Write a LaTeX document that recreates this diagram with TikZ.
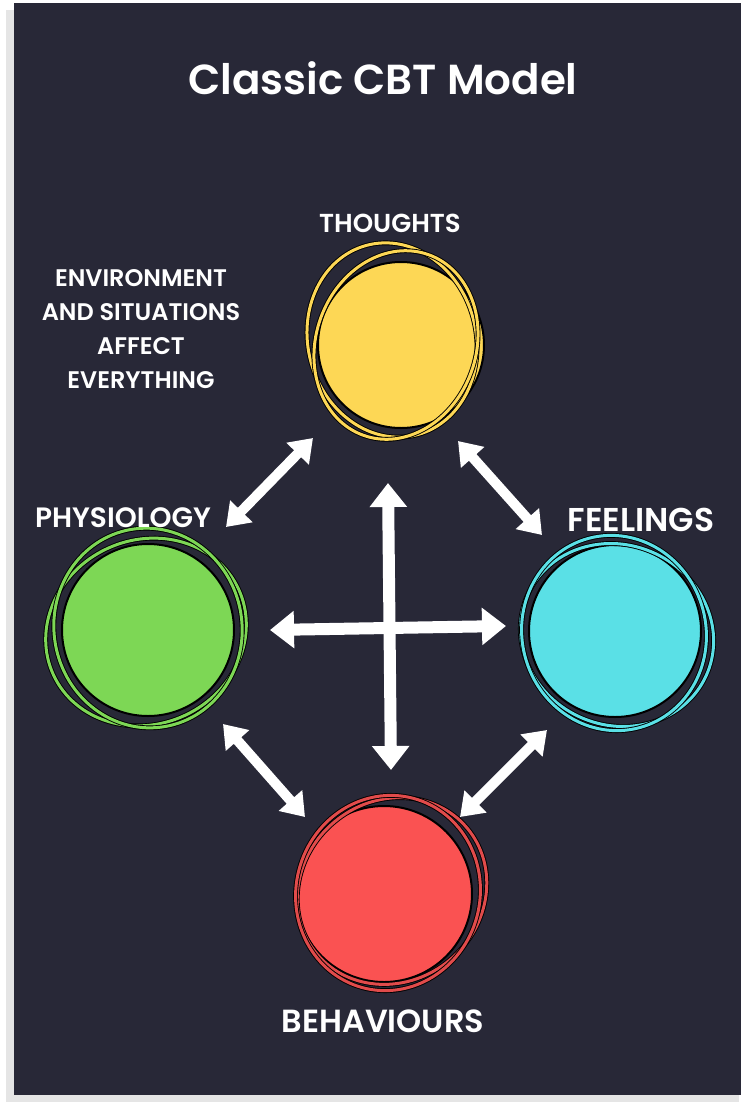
\documentclass[tikz,border=0pt]{standalone}
\usepackage{fontspec}
\newfontfamily\handfont{Poppins}[BoldFont={Poppins SemiBold}]
\usetikzlibrary{positioning,arrows.meta}

\definecolor{panel}{RGB}{40,40,55}
\definecolor{thoughtcol}{RGB}{253,215,85}
\definecolor{physcol}{RGB}{125,215,85}
\definecolor{feelcol}{RGB}{90,224,230}
\definecolor{behavcol}{RGB}{250,82,82}
\definecolor{behavring}{RGB}{225,75,75}

\tikzset{
  blob/.style={circle, fill=#1, draw=black, line width=2pt, minimum size=172pt, inner sep=0pt},
  ring/.style={draw=black, double=#1, double distance=3pt, line width=0.9pt},
  tag/.style={text=white, font=\handfont\bfseries\fontsize{28}{28}\selectfont, inner sep=0pt},
  link/.style={draw=white, line width=12pt, {Triangle[width=36pt,length=24pt]}-{Triangle[width=36pt,length=24pt]}},
  sidelink/.style={draw=white, line width=10pt, {Triangle[width=30pt,length=22pt]}-{Triangle[width=30pt,length=22pt]}},
}

\begin{document}
\begin{tikzpicture}[x=1pt, y=-1pt]
  \useasboundingbox (0,0) rectangle (746,1106);
  \fill[white] (0,0) rectangle (746,1106);
  \fill[black!10] (6,10) rectangle (739,1102);
  \fill[panel] (14,3) rectangle (741,1095);

  \node[tag, font=\handfont\bfseries\fontsize{42}{42}\selectfont] (title) at (383,78) {Classic CBT Model};
  \node[tag, font=\handfont\bfseries\fontsize{24}{34}\selectfont, align=center] (env) at (141,329)
    {ENVIRONMENT\\AND SITUATIONS\\AFFECT\\EVERYTHING};

  % the four circles
  \node[blob=thoughtcol, minimum size=166pt] (thoughts) at (401,345) {};
  \node[blob=physcol] (physiology) at (148,630) {};
  \node[blob=feelcol] (feelings) at (615,631) {};
  \node[blob=behavcol, minimum size=176pt] (behaviours) at (384,894) {};

  \draw[ring=thoughtcol] ([shift={(-9,-5)}]thoughts.center) ellipse [x radius=84, y radius=98, rotate=15];
  \draw[ring=thoughtcol] ([shift={(-5,0)}]thoughts.center) ellipse [x radius=80, y radius=96, rotate=-20];
  \draw[ring=physcol] ([shift={(-2,2)}]physiology.center) ellipse [x radius=102, y radius=92, rotate=25];
  \draw[ring=physcol] ([shift={(0,-2)}]physiology.center) ellipse [x radius=94, y radius=100, rotate=10];
  \draw[ring=feelcol] ([shift={(2,4)}]feelings.center) ellipse [x radius=98, y radius=90, rotate=-25];
  \draw[ring=feelcol] ([shift={(-1,2)}]feelings.center) ellipse [x radius=92, y radius=98, rotate=15];
  \draw[ring=behavring] ([shift={(8,-3)}]behaviours.center) ellipse [x radius=98, y radius=90, rotate=40];
  \draw[ring=behavring] ([shift={(4,-1)}]behaviours.center) ellipse [x radius=92, y radius=98, rotate=-15];

  \node[tag, font=\handfont\bfseries\fontsize{26}{26}\selectfont, above=28pt of thoughts, xshift=-11pt] (thoughtslbl) {THOUGHTS};
  \node[tag, above=15pt of physiology, xshift=-25pt] (physiologylbl) {PHYSIOLOGY};
  \node[tag, font=\handfont\bfseries\fontsize{33}{33}\selectfont, above=12pt of feelings, xshift=26pt] (feelingslbl) {FEELINGS};
  \node[tag, font=\handfont\bfseries\fontsize{32}{32}\selectfont, below=27pt of behaviours, xshift=-1pt] (behaviourslbl) {BEHAVIOURS};

  % arrows
  \coordinate (tp1) at (313,438); \coordinate (tp2) at (226,527);
  \coordinate (tf1) at (458,441); \coordinate (tf2) at (542,535);
  \coordinate (pb1) at (223,724); \coordinate (pb2) at (305,817);
  \coordinate (fb1) at (547,730); \coordinate (fb2) at (460,817);
  \coordinate (vtop) at (388,483); \coordinate (vbot) at (391,770);
  \coordinate (hleft) at (270,630); \coordinate (hright) at (506,626);

  \draw[sidelink] (tp1) -- (tp2);
  \draw[sidelink] (tf1) -- (tf2);
  \draw[sidelink] (pb1) -- (pb2);
  \draw[sidelink] (fb1) -- (fb2);
  \draw[link] (vtop) -- (vbot);
  \draw[link] (hleft) -- (hright);
\end{tikzpicture}
\end{document}
